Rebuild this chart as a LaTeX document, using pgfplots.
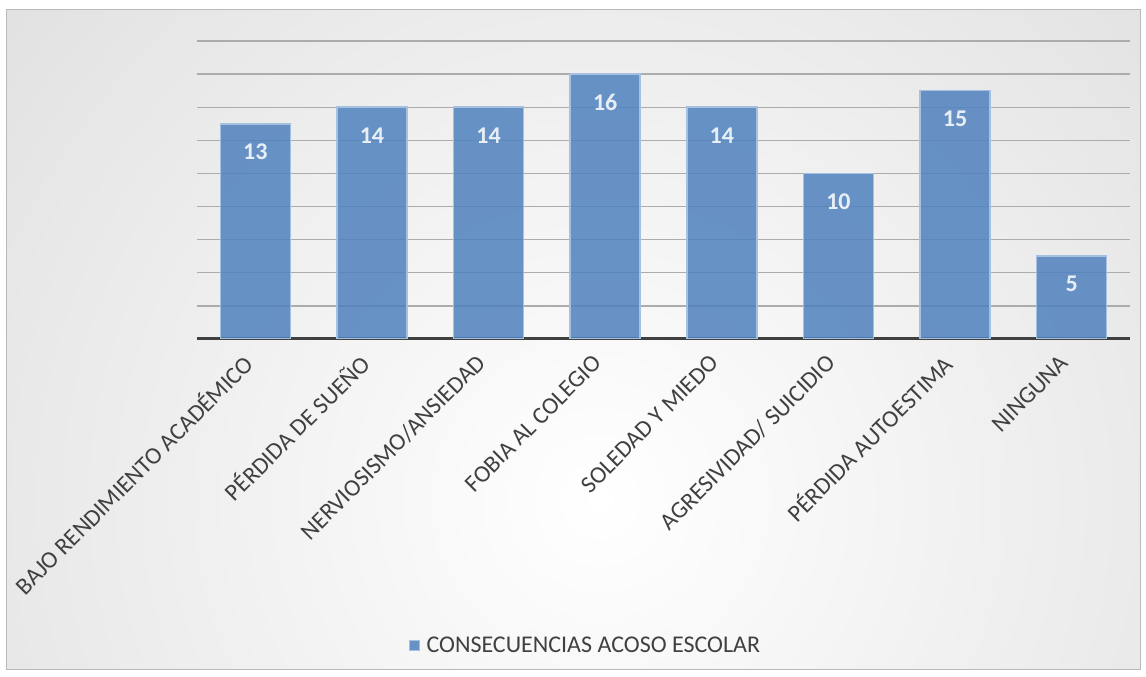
\documentclass[border=0pt]{standalone}
\usepackage{pgfplots}
\pgfplotsset{compat=1.18}
\usepackage{fontspec}
\setmainfont{Carlito}
\definecolor{barfill}{RGB}{79,129,189}
\definecolor{baredge}{RGB}{166,192,224}
\definecolor{txt}{RGB}{64,64,64}
\definecolor{gridc}{RGB}{172,172,172}
\begin{document}
\begin{tikzpicture}[x=1pt,y=1pt]
\path[fill=white] (0,0) rectangle (1146,677);
\begin{scope}
\clip (6,7) rectangle (1140,667);
\shade[inner color=white, outer color={rgb,255:red,194;green,194;blue,194}] (600,177) circle (1600);
\end{scope}
\draw[gray!55, line width=1pt] (6,7) rectangle (1140,667);
\begin{axis}[
  at={(197pt,338pt)}, anchor=south west,
  scale only axis, width=933pt, height=298pt,
  ybar, bar width=70pt,
  xmin=-0.5, xmax=7.5, ymin=0, ymax=18,
  xtick={0,...,7},
  xticklabels={BAJO RENDIMIENTO ACADÉMICO, PÉRDIDA DE SUEÑO, NERVIOSISMO/ANSIEDAD, FOBIA AL COLEGIO, SOLEDAD Y MIEDO, AGRESIVIDAD/ SUICIDIO, PÉRDIDA AUTOESTIMA, NINGUNA},
  xticklabel style={rotate=45, anchor=east, font=\fontsize{24}{28}\selectfont, text=txt, yshift=-9pt, xshift=-16pt},
  ytick={2,4,...,18}, yticklabels={},
  ymajorgrids, grid style={gridc, line width=1.3pt},
  major tick length=0pt,
  axis x line*=bottom, axis y line*=left,
  y axis line style={draw=none},
  x axis line style={-, line width=3pt, txt},
  /pgf/number format/assume math mode=true,
  nodes near coords,
  nodes near coords style={anchor=center, yshift=-28pt, text=white, font=\bfseries\fontsize{24}{28}\selectfont},
  legend style={at={(0.4163,-1.027)}, anchor=center, draw=none, fill=none, font=\fontsize{24}{28}\selectfont, text=txt, legend cell align=left, /tikz/every odd column/.append style={column sep=5pt}},
  legend image code/.code={\draw[#1, line width=0.8pt] (-10pt,-5pt) rectangle (0pt,5pt);},
]
\addplot[fill=barfill, fill opacity=0.85, draw=baredge, line width=1.5pt, bar shift=0pt] coordinates {(0,13) (1,14) (2,14) (3,16) (4,14) (5,10) (6,15) (7,5)};
\addlegendentry{CONSECUENCIAS ACOSO ESCOLAR}
\end{axis}
\end{tikzpicture}
\end{document}
